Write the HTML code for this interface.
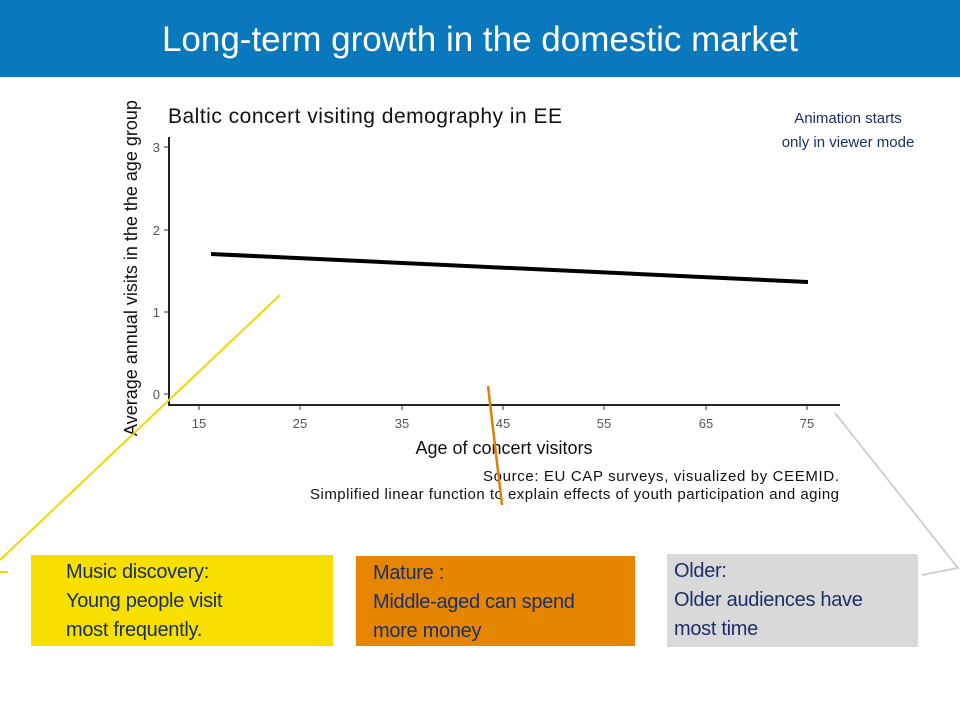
<!DOCTYPE html>
<html><head><meta charset="utf-8"><style>
body{margin:0;width:960px;height:720px;background:#fff;overflow:hidden;position:relative;font-family:"Liberation Sans",sans-serif}
.hdr{position:absolute;left:0;top:0;width:960px;height:77px;background:#0a78bd;color:#fff;font-size:35px;text-align:center;line-height:80px}
.box{position:absolute;font-size:20px;line-height:29px;color:#1b2f6b;padding:3px 0 0 0;box-sizing:border-box;letter-spacing:-0.3px}
svg{position:absolute;left:0;top:0}
</style></head><body>
<div class="hdr">Long-term growth in the domestic market</div>
<div class="box" style="left:31px;top:555px;width:302px;height:91px;background:#f7e000;padding-left:35px">Music discovery:<br>Young people visit<br>most frequently.</div>
<div class="box" style="left:356px;top:556px;width:279px;height:90px;background:#e68600;padding-left:17px">Mature :<br>Middle-aged can spend<br>more money</div>
<div class="box" style="left:667px;top:554px;width:251px;height:93px;background:#d9d9d9;padding-left:7px">Older:<br>Older audiences have<br>most time</div>
<svg width="960" height="720" font-family="Liberation Sans, sans-serif">
<text x="848" y="123" font-size="15" fill="#1b2f6b" text-anchor="middle">Animation starts</text>
<text x="848" y="147" font-size="15" fill="#1b2f6b" text-anchor="middle">only in viewer mode</text>
<text x="168" y="123" font-size="21" fill="#111" textLength="394">Baltic concert visiting demography in EE</text>
<line x1="169" y1="137" x2="169" y2="406" stroke="#222" stroke-width="2"/>
<line x1="168" y1="405" x2="840" y2="405" stroke="#222" stroke-width="2"/>
<g font-size="13" fill="#555" text-anchor="end">
<text x="160" y="152">3</text><text x="160" y="235">2</text><text x="160" y="317">1</text><text x="160" y="399">0</text></g>
<g stroke="#333"><line x1="164" y1="147" x2="169" y2="147"/><line x1="164" y1="230" x2="169" y2="230"/><line x1="164" y1="312" x2="169" y2="312"/><line x1="164" y1="394" x2="169" y2="394"/>
<line x1="199" y1="405" x2="199" y2="410"/><line x1="300" y1="405" x2="300" y2="410"/><line x1="402" y1="405" x2="402" y2="410"/><line x1="503" y1="405" x2="503" y2="410"/><line x1="604" y1="405" x2="604" y2="410"/><line x1="706" y1="405" x2="706" y2="410"/><line x1="807" y1="405" x2="807" y2="410"/></g>
<g font-size="13" fill="#555" text-anchor="middle">
<text x="199" y="428">15</text><text x="300" y="428">25</text><text x="402" y="428">35</text><text x="503" y="428">45</text><text x="604" y="428">55</text><text x="706" y="428">65</text><text x="807" y="428">75</text></g>
<text x="504" y="454" font-size="18" fill="#111" text-anchor="middle">Age of concert visitors</text>
<text x="839" y="481" font-size="15" fill="#111" text-anchor="end" textLength="356">Source: EU CAP surveys, visualized by CEEMID.</text>
<text x="839" y="499" font-size="15" fill="#111" text-anchor="end" textLength="529">Simplified linear function to explain effects of youth participation and aging</text>
<text transform="translate(137,268) rotate(-90)" font-size="18" fill="#111" text-anchor="middle">Average annual visits in the the age group</text>
<line x1="211" y1="254" x2="808" y2="282" stroke="#000" stroke-width="4"/>
<line x1="280" y1="295" x2="0" y2="560" stroke="#f0d800" stroke-width="2"/>
<line x1="0" y1="572" x2="8" y2="572" stroke="#f0d800" stroke-width="2"/>
<line x1="488" y1="386" x2="502" y2="505" stroke="#e07f00" stroke-width="2.5"/>
<polyline points="835,413 958,568 922,575" fill="none" stroke="#d0d0d0" stroke-width="2"/>
</svg>
</body></html>
